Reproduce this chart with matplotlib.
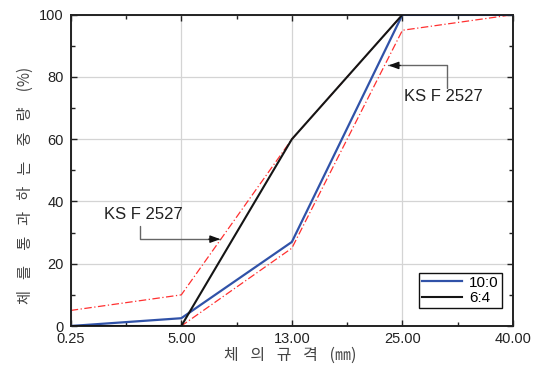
import matplotlib
matplotlib.use("Agg")
import matplotlib.pyplot as plt
import numpy as np

# ---- data ----
sieve_labels = ["0.25", "5.00", "13.00", "25.00", "40.00"]
ratio_10_0 = [0, 2.5, 27, 100, 100]
ratio_6_4 = [0, 0, 60, 100, 100]
ks_upper = [5, 10, 60, 100, 100]
ks_lower = [0, 0, 25, 95, 100]
y_ticks = [0, 20, 40, 60, 80, 100]
legend_labels = ["10:0", "6:4"]
annot_text = "KS F 2527"
xlabel = "체\u2002 의\u2002 규\u2002 격\u2002 (㎜)"
ylabel = "체\u2002 를\u3000통\u2002 과\u2002 하\u2002 는\u3000중\u2002 량\u3000(%)"

W, H = 535, 369
fig = plt.figure(figsize=(W / 100, H / 100), dpi=100)
ax = fig.add_axes([70.7 / W, 1 - 326 / H, (513 - 70.7) / W, (326 - 14.7) / H])

x = np.arange(len(sieve_labels))

ax.plot(x, ks_upper, color="#ff3030", lw=0.9, ls=(0, (6, 2, 1, 2)), zorder=2)
ax.plot(x, ks_lower, color="#ff3030", lw=0.9, ls=(0, (6, 2, 1, 2)), zorder=2)
ax.plot(x, ratio_10_0, color="#3052a8", lw=1.6, label=legend_labels[0], zorder=3)
ax.plot(x, ratio_6_4, color="#151515", lw=1.5, label=legend_labels[1], zorder=3)

ax.set_xlim(0, len(sieve_labels) - 1)
ax.set_ylim(0, 100)
ax.set_xticks(x)
ax.set_xticklabels(sieve_labels)
ax.set_xticks(np.arange(0.5, len(sieve_labels) - 1, 1), minor=True)
ax.set_yticks(y_ticks)
ax.set_yticks(np.arange(10, 100, 20), minor=True)

for lab in ax.get_xticklabels() + ax.get_yticklabels():
    lab.set_fontfamily("Liberation Sans")
    lab.set_fontsize(10.5)
    lab.set_color("#222222")

ax.tick_params(which="both", direction="in", top=True, right=True, color="#222222")
ax.tick_params(which="major", length=4, width=1)
ax.tick_params(which="minor", length=3, width=1)
ax.tick_params(axis="x", pad=4.5)
ax.tick_params(axis="y", pad=5)

ax.grid(True, which="major", color="#d4d4d4", lw=0.9)
ax.set_axisbelow(True)
for s in ax.spines.values():
    s.set_linewidth(1.4)
    s.set_color("#222222")

# annotations: gray elbow connector with black arrow head
conn = dict(arrowstyle="-", color="#666666", lw=1.0, shrinkA=0, shrinkB=0,
            connectionstyle="angle,angleA=90,angleB=0,rad=0")
head = dict(arrowstyle="-|>,head_length=0.6,head_width=0.22", color="#111111", lw=1.0,
            shrinkA=0, shrinkB=0)
ax.annotate("", xy=(1.353, 27.9), xytext=(0.627, 32.0), arrowprops=conn)
ax.annotate("", xy=(1.353, 27.9), xytext=(1.25, 27.9), arrowprops=head)
ax.text(0.66, 35.7, annot_text, ha="center", va="center", family="Liberation Sans",
        size=12, color="#222222")
ax.annotate("", xy=(2.874, 83.7), xytext=(3.403, 76.5), arrowprops=conn)
ax.annotate("", xy=(2.874, 83.7), xytext=(2.98, 83.7), arrowprops=head)
ax.text(3.37, 73.8, annot_text, ha="center", va="center", family="Liberation Sans",
        size=12, color="#222222")

leg = ax.legend(loc="lower right", bbox_to_anchor=(0.975, 0.057), frameon=True,
                fancybox=False, edgecolor="#111111", framealpha=1,
                prop=dict(family="Liberation Sans", size=11),
                handlelength=2.6, handletextpad=0.5, borderpad=0.2,
                labelspacing=0.1, borderaxespad=0)
leg.get_frame().set_linewidth(1.0)

cjk = ["Noto Sans CJK KR", "DejaVu Sans"]
fig.text(290 / W, 1 - 355 / H, xlabel, ha="center", va="center", family=cjk,
         size=11.5, color="#444444")
fig.text(25 / W, 1 - 185 / H, ylabel, ha="center", va="center", rotation=90,
         family=cjk, size=11, color="#444444")

fig.savefig("out.png", dpi=100)
